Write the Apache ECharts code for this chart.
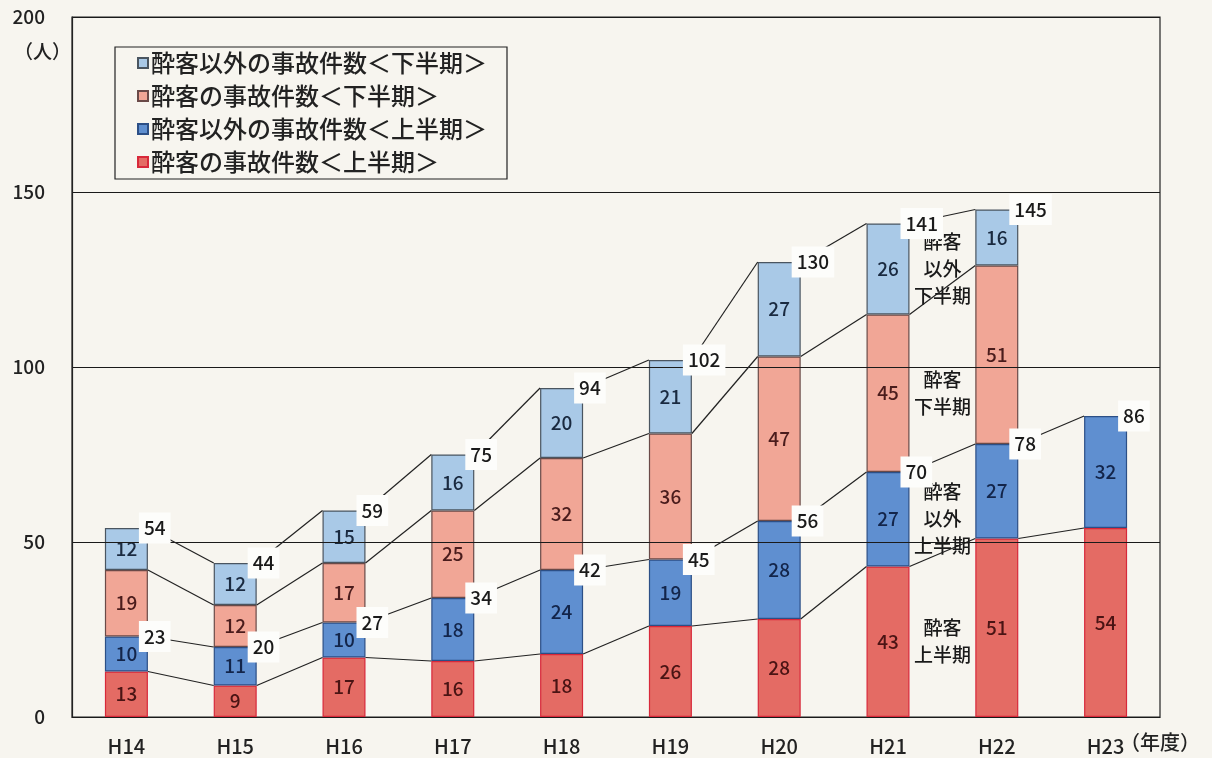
<!DOCTYPE html>
<html><head><meta charset="utf-8">
<script src="https://cdn.jsdelivr.net/npm/echarts@6/dist/echarts.min.js"></script>
<style>html,body{margin:0;padding:0;background:#f7f5ef}#c{width:1212px;height:758px}</style>
</head><body><div id="c"></div>
<script>
const categories = ['H14','H15','H16','H17','H18','H19','H20','H21','H22','H23'];
const drunkFirst  = [13, 9, 17, 16, 18, 26, 28, 43, 51, 54];
const otherFirst  = [10, 11, 10, 18, 24, 19, 28, 27, 27, 32];
const drunkSecond = [19, 12, 17, 25, 32, 36, 47, 45, 51, null];
const otherSecond = [12, 12, 15, 16, 20, 21, 27, 26, 16, null];
const seriesNames = ['酔客の事故件数＜上半期＞','酔客以外の事故件数＜上半期＞','酔客の事故件数＜下半期＞','酔客以外の事故件数＜下半期＞'];
const annotations = ['酔客\n上半期','酔客\n以外\n上半期','酔客\n下半期','酔客\n以外\n下半期'];
const annotationCategory = 7;

const FONT = '"Noto Sans CJK JP", "Noto Sans", sans-serif';
const W = '500';
const BAR_W = 43;
const layers = [drunkFirst, otherFirst, drunkSecond, otherSecond];
const cum = layers.map((_, k) => categories.map((c, i) => {
  let s = 0;
  for (let j = 0; j <= k; j++) { if (layers[j][i] == null) return null; s += layers[j][i]; }
  return s;
}));

const colors = ['#e46b64', '#5f8fd0', '#f1a696', '#a9c9e7'];
const borders = ['#d8283a', '#2c4f86', '#6a4a48', '#4a5560'];
const labelColors = ['#4a1414', '#13254a', '#4a1c1c', '#1a2a40'];

const barSeries = layers.map((arr, k) => ({
  name: seriesNames[k],
  type: 'bar',
  stack: 'total',
  barWidth: BAR_W,
  data: arr.map(v => v == null ? '-' : v),
  itemStyle: { color: colors[k], borderColor: borders[k], borderWidth: 1.2 },
  label: { show: true, position: 'inside', fontFamily: FONT, fontWeight: W, fontSize: 19, color: labelColors[k] },
  z: 2
}));

const connectorSeries = {
  type: 'custom',
  z: 4,
  silent: true,
  encode: { x: 0, y: 1 },
  data: categories.slice(0, -1).map((c, i) => [i, 0]),
  renderItem: function (params, api) {
    const i = api.value(0);
    const children = [];
    for (let k = 0; k < 4; k++) {
      const a = cum[k][i], b = cum[k][i + 1];
      if (a == null || b == null) continue;
      const p1 = api.coord([i, a]), p2 = api.coord([i + 1, b]);
      children.push({
        type: 'line',
        shape: { x1: p1[0] + BAR_W / 2, y1: p1[1], x2: p2[0] - BAR_W / 2, y2: p2[1] },
        style: { stroke: '#222', lineWidth: 1.2 }
      });
    }
    return { type: 'group', children: children };
  }
};

const totalData = [];
categories.forEach((c, i) => {
  if (cum[1][i] != null) totalData.push([i, cum[1][i]]);
  if (cum[3][i] != null) totalData.push([i, cum[3][i]]);
});
const totalSeries = {
  type: 'custom',
  z: 10,
  silent: true,
  encode: { x: 0, y: 1 },
  data: totalData,
  renderItem: function (params, api) {
    const p = api.coord([api.value(0), api.value(1)]);
    return {
      type: 'text',
      x: p[0] + BAR_W / 2 - 9,
      y: p[1],
      style: {
        text: String(api.value(1)),
        font: W + ' 19px ' + FONT,
        fill: '#1a1a1a',
        align: 'left',
        verticalAlign: 'middle',
        backgroundColor: '#fdfdfb',
        padding: [6, 5, 6, 5]
      }
    };
  }
};

const annotationSeries = {
  type: 'custom',
  z: 6,
  silent: true,
  encode: { x: 0, y: 1 },
  data: annotations.map((t, k) => [annotationCategory, (cum[k][annotationCategory] - layers[k][annotationCategory] / 2), k]),
  renderItem: function (params, api) {
    const p = api.coord([api.value(0), api.value(1)]);
    const half = api.size([1, 0])[0] / 2;
    return {
      type: 'text',
      x: p[0] + half,
      y: p[1],
      style: {
        text: annotations[api.value(2)],
        font: W + ' 19px ' + FONT,
        fill: '#1a1a1a',
        align: 'center',
        verticalAlign: 'middle',
        lineHeight: 27
      }
    };
  }
};

const chart = echarts.init(document.getElementById('c'));
chart.setOption({
  backgroundColor: '#f7f5ef',
  animation: false,
  grid: { left: 72, right: 52, top: 17, bottom: 41, show: true, borderColor: '#222', borderWidth: 1.2, backgroundColor: 'transparent' },
  legend: {
    orient: 'vertical',
    left: 115, top: 47,
    data: [seriesNames[3], seriesNames[2], seriesNames[1], seriesNames[0]],
    icon: 'rect',
    itemWidth: 10, itemHeight: 10,
    itemGap: 9,
    padding: [4, 20, 5, 22],
    borderColor: '#222', borderWidth: 1.2,
    textStyle: { fontFamily: FONT, fontWeight: W, fontSize: 24, color: '#222', padding: [0, 0, 0, -2] },
    selectedMode: false
  },
  xAxis: {
    type: 'category',
    data: categories,
    axisLine: { lineStyle: { color: '#222', width: 1.2 } },
    axisTick: { inside: true, length: 5, lineStyle: { color: '#444' } },
    axisLabel: { margin: 19, fontFamily: FONT, fontWeight: W, fontSize: 20, color: '#222' }
  },
  yAxis: {
    type: 'value', min: 0, max: 200, interval: 50,
    z: 3,
    axisLine: { show: true, lineStyle: { color: '#222', width: 1.2 } },
    axisTick: { show: false },
    splitLine: { show: true, lineStyle: { color: '#1a1a1a', width: 1.2 } },
    axisLabel: { margin: 27, fontFamily: FONT, fontWeight: W, fontSize: 19, color: '#222' }
  },
  graphic: [
    { type: 'text', left: 14, top: 42, style: { text: '（人）', font: W + ' 19px ' + FONT, fill: '#222' } },
    { type: 'text', left: 1120, top: 732, style: { text: '（年度）', font: W + ' 20px ' + FONT, fill: '#222' } }
  ],
  series: barSeries.concat([connectorSeries, annotationSeries, totalSeries])
});
</script>
</body></html>
